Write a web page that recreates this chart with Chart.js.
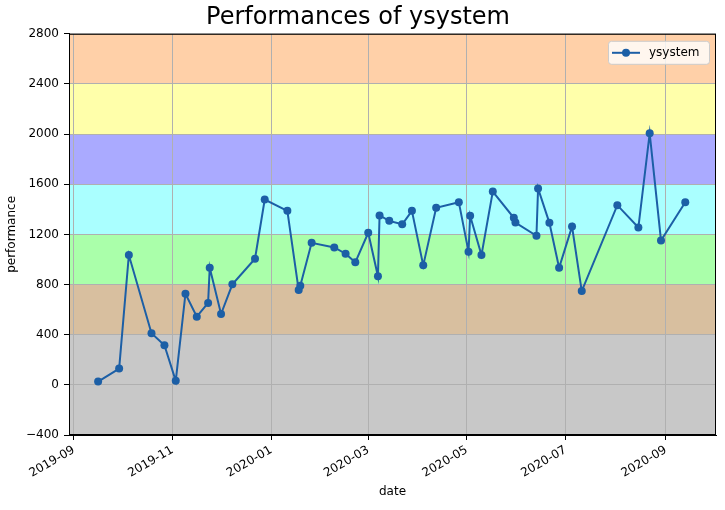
<!DOCTYPE html>
<html>
<head>
<meta charset="utf-8">
<script src="https://cdn.jsdelivr.net/npm/chart.js@4.4.1/dist/chart.umd.min.js"></script>
<style>
  html, body { margin: 0; padding: 0; background: #fff; }
  #wrap { width: 725px; height: 510px; }
</style>
</head>
<body>
<div id="wrap"><canvas id="perfChart" width="725" height="510"></canvas></div>
<script>
'use strict';

// contest dates and performances of ysystem
const dates = [
  '2019-09-16', '2019-09-29', '2019-10-05', '2019-10-19', '2019-10-27', '2019-11-03',
  '2019-11-09', '2019-11-16', '2019-11-23', '2019-11-24', '2019-12-01', '2019-12-08',
  '2019-12-22', '2019-12-28', '2020-01-11', '2020-01-18', '2020-01-19', '2020-01-26',
  '2020-02-09', '2020-02-16', '2020-02-22', '2020-03-01', '2020-03-07', '2020-03-08',
  '2020-03-14', '2020-03-22', '2020-03-28', '2020-04-04', '2020-04-12', '2020-04-26',
  '2020-05-02', '2020-05-03', '2020-05-10', '2020-05-17', '2020-05-30', '2020-05-31',
  '2020-06-13', '2020-06-14', '2020-06-21', '2020-06-27', '2020-07-05', '2020-07-11',
  '2020-08-02', '2020-08-15', '2020-08-22', '2020-08-29', '2020-09-13'
];
const performance = [
  26, 130, 1035, 411, 316, 32,
  727, 544, 653, 934, 565, 802,
  1006, 1478, 1388, 756, 791, 1133,
  1096, 1046, 977, 1213, 866, 1351,
  1308, 1281, 1388, 953, 1412, 1457,
  1062, 1348, 1035, 1542, 1332, 1295,
  1189, 1566, 1292, 934, 1263, 748,
  1433, 1255, 2006, 1152, 1457
];
const xTickLabels = ['2019-09', '2019-11', '2020-01', '2020-03', '2020-05', '2020-07', '2020-09'];
const xRange = ['2019-08-29', '2020-10-02'];
const yRange = [-400, 2800];
// rating bands: lower, upper, colour
const bandLimits = [-400, 400, 800, 1200, 1600, 2000, 2400, 2800];
const bandColors = ['#c8c8c8', '#d8bf9f', '#aaffaa', '#aaffff', '#aaaaff', '#ffffaa', '#ffd0a8'];

const toMs = s => {
  const p = s.split('-').map(Number);
  return Date.UTC(p[0], p[1] - 1, p[2] || 1);
};
const pad2 = n => (n < 10 ? '0' : '') + n;

const points = dates.map((d, i) => ({ x: toMs(d), y: performance[i] }));
const tickValues = xTickLabels.map(toMs);

const lineColor = '#1c5fa6';

const bandsPlugin = {
  id: 'bands',
  beforeDraw(chart) {
    const { ctx, chartArea } = chart;
    const y = chart.scales.y;
    ctx.save();
    for (let i = 0; i < bandColors.length; i++) {
      const top = y.getPixelForValue(bandLimits[i + 1]);
      const bot = y.getPixelForValue(bandLimits[i]);
      ctx.fillStyle = bandColors[i];
      ctx.fillRect(chartArea.left, top, chartArea.right - chartArea.left, bot - top);
    }
    ctx.restore();
  },
  afterDraw(chart) {
    const { ctx, chartArea } = chart;
    ctx.save();
    // frame
    ctx.strokeStyle = '#000';
    ctx.lineWidth = 1;
    ctx.strokeRect(chartArea.left + 0.5, chartArea.top + 0.5,
      chartArea.right - chartArea.left - 1, chartArea.bottom - chartArea.top - 1);

    // legend box, upper right
    const w = 101, h = 23;
    const bx = chartArea.right - w - 7, by = chartArea.top + 7;
    ctx.globalAlpha = 0.8;
    ctx.fillStyle = '#fff';
    ctx.beginPath();
    ctx.roundRect(bx + 0.5, by + 0.5, w, h, 3);
    ctx.fill();
    ctx.globalAlpha = 1;
    ctx.strokeStyle = '#cccccc';
    ctx.stroke();

    const ly = by + h / 2 + 0.5;
    ctx.strokeStyle = lineColor;
    ctx.lineWidth = 2;
    ctx.beginPath();
    ctx.moveTo(bx + 4, ly);
    ctx.lineTo(bx + 32, ly);
    ctx.stroke();
    ctx.fillStyle = lineColor;
    ctx.beginPath();
    ctx.arc(bx + 18, ly, 4, 0, Math.PI * 2);
    ctx.fill();

    ctx.fillStyle = '#000';
    ctx.font = '12px "DejaVu Sans"';
    ctx.textBaseline = 'middle';
    ctx.textAlign = 'left';
    ctx.fillText(chart.data.datasets[0].label, bx + 41, ly);
    ctx.restore();
  }
};

Chart.defaults.font.family = '"DejaVu Sans", sans-serif';
Chart.defaults.font.size = 12;
Chart.defaults.color = '#000';

new Chart(document.getElementById('perfChart'), {
  type: 'line',
  data: {
    datasets: [{
      label: 'ysystem',
      data: points,
      borderColor: lineColor,
      backgroundColor: lineColor,
      borderWidth: 2,
      pointRadius: 4,
      pointHoverRadius: 4,
      pointBorderWidth: 0,
      tension: 0,
      fill: false
    }]
  },
  options: {
    responsive: false,
    animation: false,
    layout: { padding: { left: 0, right: 9, top: 0, bottom: 0 } },
    plugins: {
      legend: { display: false },
      tooltip: { enabled: false },
      title: {
        display: true,
        text: 'Performances of ysystem',
        font: { size: 24, weight: 'normal' },
        color: '#000',
        padding: { top: 3, bottom: 2 }
      }
    },
    scales: {
      x: {
        type: 'linear',
        min: toMs(xRange[0]),
        max: toMs(xRange[1]),
        afterBuildTicks: s => { s.ticks = tickValues.map(v => ({ value: v })); },
        afterFit: s => { s.height = 75; },
        ticks: {
          autoSkip: false,
          minRotation: 30,
          maxRotation: 30,
          padding: 3,
          callback: v => {
            const d = new Date(v);
            return d.getUTCFullYear() + '-' + pad2(d.getUTCMonth() + 1);
          }
        },
        grid: { color: '#b0b0b0', lineWidth: 1, tickLength: 5, tickColor: '#000' },
        border: { display: true, color: '#000' },
        title: { display: true, text: 'date', padding: { top: 0, bottom: 11 } }
      },
      y: {
        min: yRange[0],
        max: yRange[1],
        afterFit: s => { s.width = 69; },
        ticks: {
          stepSize: 400,
          padding: 5,
          callback: v => (v < 0 ? '\u2212' + Math.abs(v) : String(v))
        },
        grid: { color: '#b0b0b0', lineWidth: 1, tickLength: 5, tickColor: '#000' },
        border: { display: true, color: '#000' },
        title: { display: true, text: 'performance', padding: { top: 5, bottom: 0 } }
      }
    }
  },
  plugins: [bandsPlugin]
});
</script>
</body>
</html>
